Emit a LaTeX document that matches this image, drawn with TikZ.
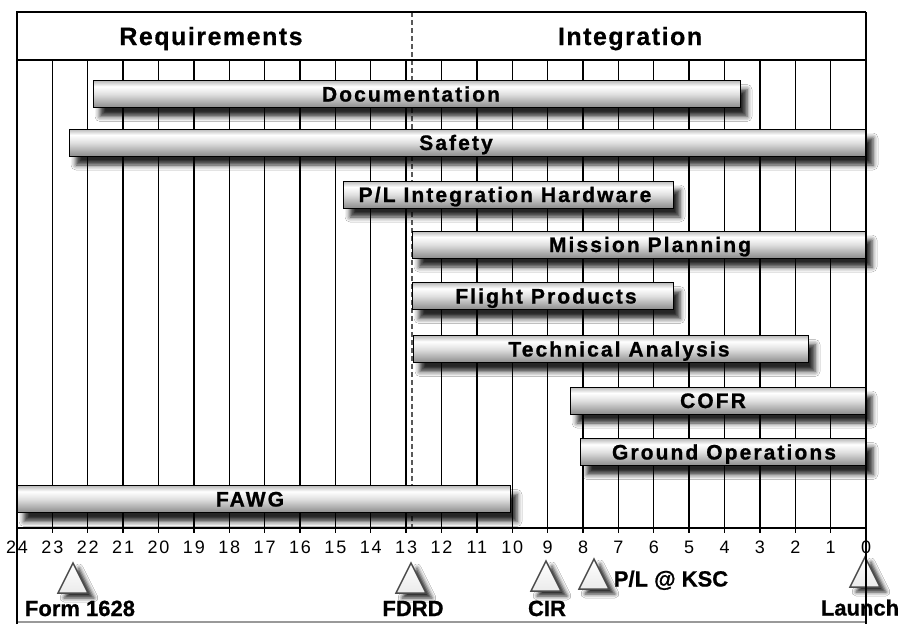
\documentclass[tikz,border=0pt]{standalone}
\usepackage{fontspec}
\setmainfont{Liberation Sans}
\newfontfamily\barfont{Liberation Sans Bold}[LetterSpace=10, FakeBold=1]
\newfontfamily\headfont{Liberation Sans Bold}[LetterSpace=6, FakeBold=0.6]
\newfontfamily\tickfont{Liberation Sans}[LetterSpace=10]
\newfontfamily\msfont{Liberation Sans Bold}[FakeBold=0.8]
\usetikzlibrary{shadows.blur}
\pgfdeclareverticalshading{barshade}{100bp}{color(0bp)=(black!45); color(25bp)=(black!45); color(50bp)=(black!12); color(64bp)=(white); color(75bp)=(black!28); color(100bp)=(black!28)}
\begin{document}
\begin{tikzpicture}[x=1pt,y=-1pt,
  gridline/.style={line width=1.4pt},
  bar/.style={draw=black, line width=1pt, rectangle, inner sep=0pt, outer sep=0pt, minimum height=27pt, shading=barshade,
    blur shadow={shadow xshift=7pt, shadow yshift=-9pt, shadow blur radius=5pt, shadow opacity=85}},
  barlabel/.style={font=\barfont\fontsize{21}{24}\selectfont, inner sep=0pt, text height=15pt, text depth=0pt},
  head/.style={font=\headfont\fontsize{25}{28}\selectfont, inner sep=0pt, text height=18pt, text depth=0pt},
  ticklab/.style={font=\tickfont\fontsize{18}{20}\selectfont, inner sep=0pt, text height=13pt, text depth=0pt},
  mslabel/.style={font=\msfont\fontsize{22}{24}\selectfont, inner sep=0pt, text height=16pt, text depth=0pt},
  marker/.style={draw=black!70, line width=1.5pt, top color=white, bottom color=black!8,
    blur shadow={shadow xshift=6pt, shadow yshift=-5pt, shadow blur radius=4pt, shadow opacity=85}},
]
\useasboundingbox[fill=white] (0,0) rectangle (904,624);

% grid lines
\foreach \i in {1,...,23}{
  \pgfmathsetmacro\xx{17+(24-\i)*35.375}
  \draw[gridline] (\xx,60) -- (\xx,528);
}
\foreach \i in {0,...,24}{
  \pgfmathsetmacro\xx{17+(24-\i)*35.375}
  \draw[line width=1.3pt] (\xx,528) -- (\xx,533);
  \node[ticklab] (t\i) at (\xx,547) {\i};
}
% phase divider
\draw[black!65, line width=1.3pt, dash pattern=on 5pt off 3pt] (412,12) -- (412,528);

% header
\node[head] (req) at (211,36) {Requirements};
\node[head] (integ) at (630,36) {Integration};

% bars
\node[bar, minimum width=647pt] (doc) at (416.5,94) {};
\node[barlabel] at (411,94) {Documentation};
\node[bar, minimum width=797pt] (saf) at (467.5,142.5) {};
\node[barlabel] at (456,142.5) {Safety};
\node[bar, minimum width=330pt] (plih) at (508,194.5) {};
\node[barlabel] at (505,194.5) {P/L Integration Hardware};
\node[bar, minimum width=453pt] (mp) at (638.5,244.5) {};
\node[barlabel] at (650,244.5) {Mission Planning};
\node[bar, minimum width=261pt] (fp) at (542.5,296) {};
\node[barlabel] at (546,296) {Flight Products};
\node[bar, minimum width=395pt] (ta) at (610.5,349) {};
\node[barlabel] at (619,349) {Technical Analysis};
\node[bar, minimum width=295pt] (cofr) at (717.5,400.5) {};
\node[barlabel] at (713,400.5) {COFR};
\node[bar, minimum width=286pt] (go) at (723,452) {};
\node[barlabel] at (724,452) {Ground Operations};
\node[bar, minimum width=493pt] (fawg) at (263.5,499) {};
\node[barlabel] at (250,499) {FAWG};

% milestones
\coordinate (mform) at (73,563);
\coordinate (mfdrd) at (411,563);
\coordinate (mcir) at (546,561);
\coordinate (mpl) at (594,559);
\coordinate (mlaunch) at (865,557);
\foreach \m in {mform,mfdrd,mcir,mpl,mlaunch}{
  \draw[marker] (\m) -- ([shift={(15,30)}]\m) -- ([shift={(-15,30)}]\m) -- cycle;
}
\node[mslabel] (lform) at (80,608) {Form 1628};
\node[mslabel] (lfdrd) at (413,608) {FDRD};
\node[mslabel] (lcir) at (547,608) {CIR};
\node[mslabel] (lpl) at (671,578.5) {P/L @ KSC};
\node[mslabel] (llaunch) at (860,607.5) {Launch};

% frame
\draw[black!40, line width=1.5pt] (17,622) -- (866,622);
\draw[line width=2pt] (17,60) -- (866,60);
\draw[line width=2pt] (17,528) -- (866,528);
\draw[line width=2pt] (17,624) -- (17,12) -- (866,12);
\draw[line width=2.5pt] (866,12) -- (866,624);
\end{tikzpicture}
\end{document}
